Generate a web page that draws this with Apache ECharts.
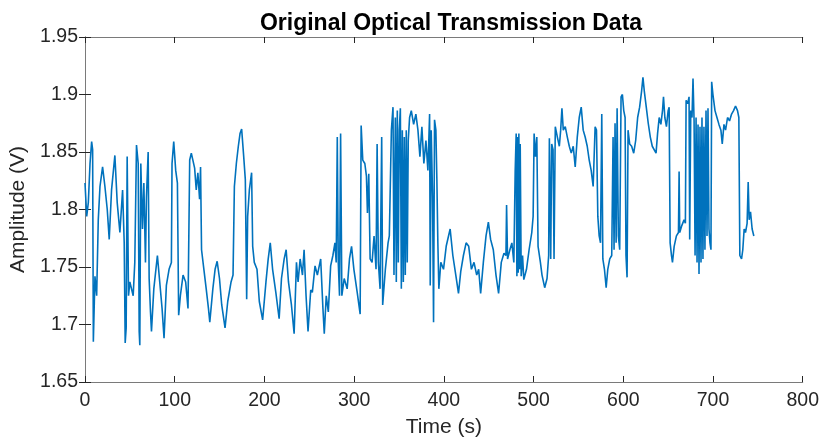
<!DOCTYPE html>
<html>
<head>
<meta charset="utf-8">
<script src="https://cdn.jsdelivr.net/npm/echarts@6/dist/echarts.min.js"></script>
<style>html,body{margin:0;padding:0;background:#fff;}#c{width:822px;height:443px;}</style>
</head>
<body>
<div id="c"></div>
<script>
const xTicks = [0,100,200,300,400,500,600,700,800];
const yTicks = [1.65,1.7,1.75,1.8,1.85,1.9,1.95];
const times = [
0,1.9,3.7,5.6,7.4,8.5,9.3,11.1,13,14.8,16.7,19.6,22.2,24.8,27,29.6,33.3,35.9,38.9,41.9,43.7,44.8,45.9,47,48.5,50,53.7,55.5,57.4,59.3,60.4,61.1,62.2,64.1,65.6,67.4,68.5,70.4,71.5,73,74.1,76.7,80.7,83.3,85.9,88.1,90.7,93.7,96.3,97,98.9,101.1,103,104.4,106.3,109.3,112.2,114.8,116.7,118.5,122.2,
124,125.8,127.7,128.8,129.9,132.5,135.1,137.6,139.1,142.5,145,147.3,149.9,152.4,156.1,159.1,162.8,165,166.5,168.7,170.9,172.8,174.6,176.9,178.7,180.2,181.3,183.2,185.7,186.9,188.7,191.7,194.3,198,201.7,204.2,206.5,209.1,212.7,216.4,219,222,224.2,226.8,230.1,233.1,235.7,237.5,239.8,242.4,244.2,246.4,248.6,251.6,
253.4,256.4,259,262.7,265.2,266.7,268.9,271.2,273.8,276.3,278.6,280,281.2,282.3,283.7,284.9,286.3,288.9,292.2,294.8,297.1,299.7,303.4,306.7,307.8,309.6,311.9,313.7,314.8,316.3,317.8,320,322.2,324.4,325.6,327,328.9,330.7,331.8,334.8,337.8,339.2,341.5,343.3,344.4,345.9,347,348.1,349.2,350.3,351.5,352.6,353.7,354.8,355.9,357,358.1,359.2,360.3,361.8,363.7,366.3,368.8,371.1,373.3,375.5,377.7,380,382.2,
384.1,384.8,385.9,387.4,388.5,389.6,391.1,392.2,393.3,394.4,396.6,399.6,402.6,405.2,407,410,413.3,416.3,418.8,421.8,424.8,427.7,430.7,433.6,436.6,438.8,441,444,447,449.6,452.1,455.1,458.1,461,464,467,469.2,469.9,471,473.6,475.8,478,479.5,480.6,481.4,482.1,482.9,483.6,484.3,485.1,486.2,487.7,489.1,492.1,495,498,499.5,500.6,502.1,503.6,505,507.6,
509.4,512.4,515,516.8,517.6,519.1,520.2,521.7,522.8,524.2,526.5,528.7,530.2,531.6,533.1,535.3,537.6,539.8,542,544.2,546.4,548.7,550.9,553.1,555.3,557.5,559.8,562,564.2,566.4,568.6,570.1,571.6,573.1,574.6,576,577.2,579,580.9,582.7,584.9,587.1,588.6,589.7,590.8,592,593.1,594.5,596,597.5,599,600.5,602,603,604.2,605.3,607.1,609.3,611.6,613.8,616,618.2,620.4,621.9,623.4,625.6,627.8,630.1,632.3,634.5,636.5,
638.2,640,641.9,643.7,644.8,646.3,648.1,650,651.1,652.2,653.7,654.8,656.7,659.2,661.5,662.2,662.9,665.2,667.7,669.2,670,671.8,673.3,674,675.2,676.6,677.7,678.9,680,681.1,682.2,683.3,684.4,685.5,686.6,687.7,688.8,689.9,691,692.2,693.3,694.4,695.5,696.6,697.7,698.5,699.9,702.2,704.4,706.6,708.8,710.3,712.2,714,716.2,718.4,720.7,722.9,725.1,727.3,728.8,729.9,731.8,733.2,734.7,736.2,738,739.2,740.3,741.8,743.6,745.5
];
const amps = [
1.823,1.794,1.806,1.84,1.859,1.852,1.685,1.742,1.725,1.791,1.82,1.837,1.82,1.8,1.774,1.817,1.847,1.806,1.78,1.817,1.771,1.684,1.697,1.846,1.725,1.737,1.725,1.754,1.856,1.84,1.694,1.682,1.84,1.783,1.823,1.754,1.811,1.85,1.74,1.711,1.694,1.731,1.76,1.737,1.714,1.688,1.734,1.748,1.754,1.84,1.859,1.834,1.823,1.708,1.725,1.743,1.737,1.714,1.843,1.849,1.836,
1.817,1.832,1.809,1.837,1.765,1.748,1.731,1.714,1.702,1.731,1.748,1.755,1.74,1.717,1.697,1.72,1.737,1.743,1.82,1.84,1.855,1.866,1.87,1.846,1.826,1.722,1.794,1.817,1.832,1.768,1.754,1.748,1.72,1.704,1.737,1.757,1.771,1.748,1.728,1.705,1.74,1.757,1.765,1.737,1.717,1.692,1.754,1.737,1.757,1.743,1.765,1.725,1.694,1.73,
1.728,1.751,1.743,1.757,1.714,1.692,1.725,1.711,1.751,1.76,1.771,1.754,1.863,1.754,1.725,1.866,1.725,1.74,1.731,1.757,1.768,1.748,1.728,1.709,1.873,1.843,1.84,1.829,1.797,1.831,1.757,1.754,1.777,1.748,1.857,1.754,1.731,1.863,1.717,1.748,1.771,1.777,1.869,1.889,1.743,1.88,1.737,1.886,1.754,1.869,1.888,1.731,1.869,1.737,1.863,1.743,1.869,1.754,1.86,1.88,1.886,1.874,1.883,1.869,1.846,1.872,1.84,1.86,1.834,
1.883,1.734,1.869,1.811,1.702,1.878,1.869,1.826,1.771,1.731,1.754,1.748,1.768,1.777,1.783,1.76,1.743,1.727,1.746,1.76,1.771,1.768,1.748,1.754,1.743,1.748,1.727,1.754,1.777,1.789,1.774,1.765,1.743,1.727,1.754,1.762,1.76,1.804,1.757,1.765,1.771,1.754,1.834,1.866,1.742,1.863,1.745,1.866,1.748,1.857,1.742,1.76,1.739,1.748,1.765,1.78,1.794,1.866,1.846,1.863,1.768,1.754,
1.743,1.732,1.74,1.76,1.862,1.757,1.857,1.852,1.757,1.872,1.863,1.855,1.869,1.888,1.869,1.872,1.863,1.855,1.849,1.855,1.837,1.863,1.88,1.889,1.869,1.863,1.855,1.843,1.834,1.82,1.872,1.869,1.794,1.777,1.771,1.883,1.757,1.748,1.732,1.748,1.757,1.76,1.863,1.765,1.875,1.771,1.888,1.777,1.765,1.898,1.9,1.886,1.88,1.76,1.741,1.869,1.857,1.855,1.849,1.86,1.88,1.889,1.903,1.915,1.903,1.889,1.875,1.863,1.855,1.855,1.849,
1.866,1.88,1.874,1.886,1.898,1.88,1.872,1.886,1.889,1.771,1.76,1.754,1.768,1.777,1.78,1.833,1.78,1.786,1.791,1.788,1.895,1.892,1.898,1.774,1.886,1.88,1.914,1.877,1.76,1.88,1.754,1.874,1.744,1.872,1.754,1.88,1.757,1.872,1.765,1.886,1.777,1.888,1.783,1.771,1.765,1.911,1.9,1.886,1.88,1.874,1.869,1.857,1.874,1.869,1.88,1.877,1.883,1.886,1.89,1.886,1.88,1.76,1.757,1.765,1.783,1.78,1.788,1.824,1.791,1.798,1.783,1.777
];
const points = times.map((t, i) => [t, amps[i]]);

const chart = echarts.init(document.getElementById('c'), null, {renderer: 'canvas'});
const fontFam = '"Liberation Sans", Arial, Helvetica, sans-serif';
const axisCol = '#262626';
const frameCol = '#7a7a7a';
chart.setOption({
  animation: false,
  backgroundColor: '#fff',
  title: {
    text: 'Original Optical Transmission Data',
    left: 446, top: 7, textAlign: 'center',
    textStyle: {fontFamily: fontFam, fontSize: 23, fontWeight: 'bold', color: '#000'}
  },
  grid: {left: 85, right: 16, top: 37, bottom: 59, containLabel: false},
  xAxis: [{
    type: 'value', min: 0, max: 800, interval: 100, position: 'bottom',
    name: 'Time (s)', nameLocation: 'middle', nameGap: 35,
    nameTextStyle: {fontFamily: fontFam, fontSize: 21, color: axisCol},
    axisLine: {show: true, lineStyle: {color: frameCol, width: 1}},
    axisTick: {show: true, inside: true, length: 6, lineStyle: {color: axisCol}},
    axisLabel: {fontFamily: fontFam, fontSize: 19.5, color: axisCol, margin: 9},
    splitLine: {show: false}
  }, {
    type: 'value', min: 0, max: 800, interval: 100, position: 'top',
    axisLine: {show: true, lineStyle: {color: frameCol, width: 1}},
    axisTick: {show: true, inside: true, length: 6, lineStyle: {color: axisCol}},
    axisLabel: {show: false}, splitLine: {show: false}
  }],
  yAxis: [{
    type: 'value', min: 1.65, max: 1.95, interval: 0.05, position: 'left',
    name: 'Amplitude (V)', nameLocation: 'middle', nameGap: 48,
    nameTextStyle: {fontFamily: fontFam, fontSize: 21, color: axisCol},
    axisLine: {show: true, lineStyle: {color: frameCol, width: 1}},
    axisTick: {show: true, inside: true, length: 6, lineStyle: {color: axisCol}},
    axisLabel: {fontFamily: fontFam, fontSize: 19.5, color: axisCol, margin: 7,
      formatter: v => String(parseFloat(v.toFixed(2)))},
    splitLine: {show: false}
  }, {
    type: 'value', min: 1.65, max: 1.95, interval: 0.05, position: 'right',
    axisLine: {show: true, lineStyle: {color: frameCol, width: 1}},
    axisTick: {show: true, inside: true, length: 6, lineStyle: {color: axisCol}},
    axisLabel: {show: false}, splitLine: {show: false}
  }],
  series: [{
    type: 'line', data: points, xAxisIndex: 0, yAxisIndex: 0,
    showSymbol: false, symbol: 'none',
    lineStyle: {color: '#0072BD', width: 1.6},
    clip: true
  }]
});
</script>
</body>
</html>
